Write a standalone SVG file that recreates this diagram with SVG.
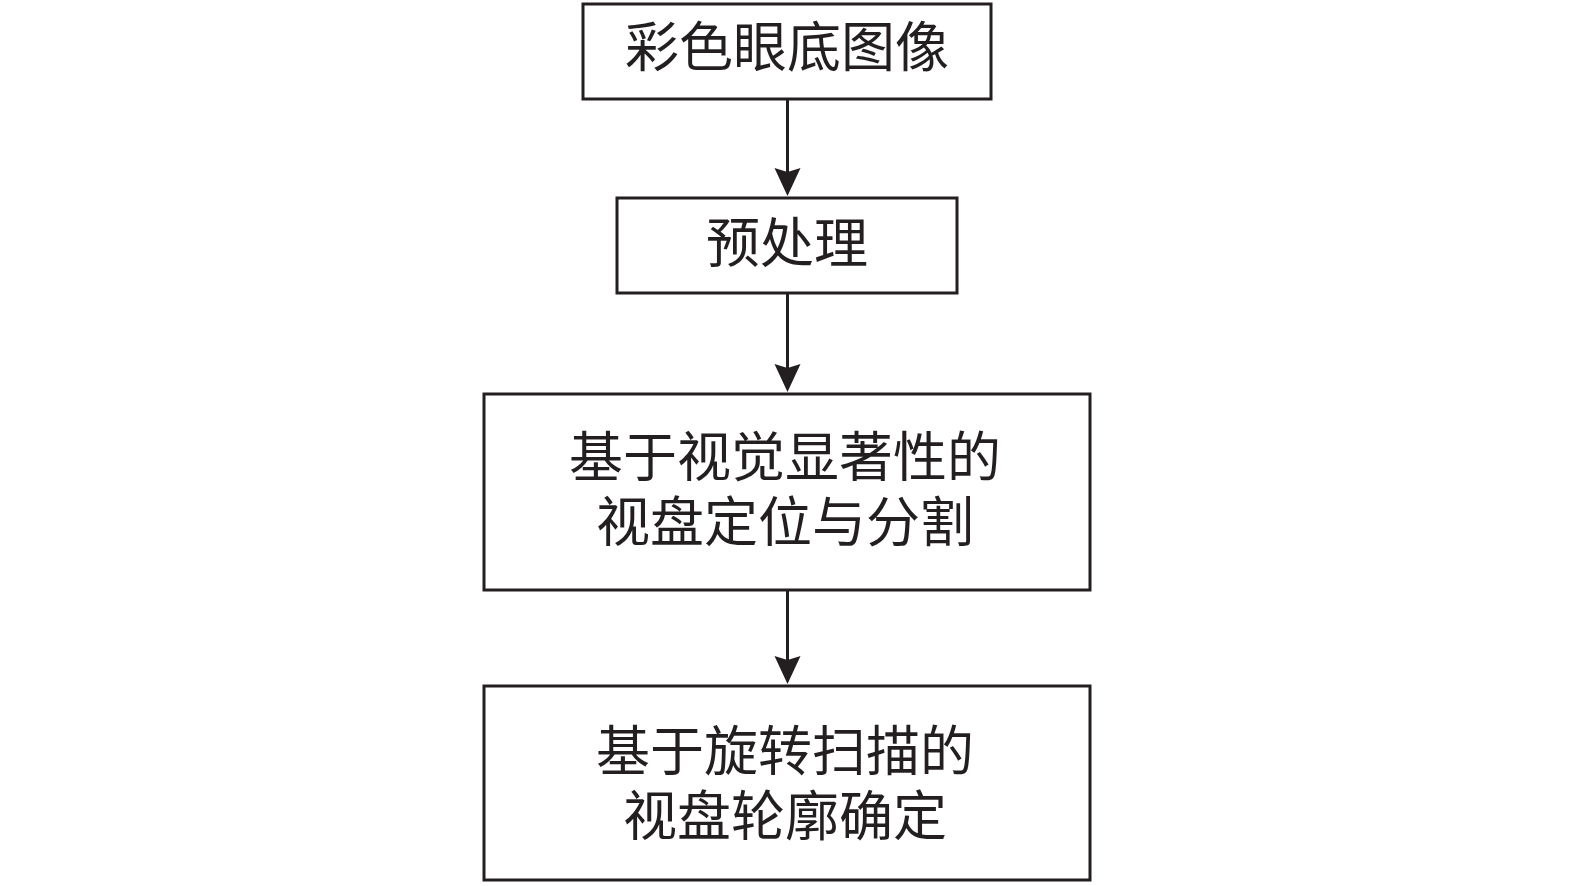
<svg xmlns="http://www.w3.org/2000/svg" width="1575" height="886" viewBox="0 0 1575 886">
<style>
.box{fill:#fff;stroke:#231f20;stroke-width:3}
.lbl{font-family:"Noto Sans CJK SC",sans-serif;font-size:54px;fill:#231f20;text-anchor:middle}
.edge{stroke:#231f20;stroke-width:3;fill:none}
.head{fill:#231f20}
</style>
<rect width="1575" height="886" fill="#fff"/>
<g id="connectors">
<line class="edge" x1="787.5" y1="99" x2="787.5" y2="175"/>
<path class="head" d="M787.5,196 L774.5,168 L787.5,172 L800.5,168 Z"/>
<line class="edge" x1="787.5" y1="293" x2="787.5" y2="371"/>
<path class="head" d="M787.5,392 L774.5,364 L787.5,368 L800.5,364 Z"/>
<line class="edge" x1="787.5" y1="590" x2="787.5" y2="663"/>
<path class="head" d="M787.5,684 L774.5,656 L787.5,660 L800.5,656 Z"/>
</g>
<g id="n1">
<rect class="box" x="583" y="4" width="408" height="95"/>
<text class="lbl" x="787" y="67">彩色眼底图像</text>
</g>
<g id="n2">
<rect class="box" x="617" y="198" width="340" height="95"/>
<text class="lbl" x="787" y="263">预处理</text>
</g>
<g id="n3">
<rect class="box" x="484" y="394" width="606" height="196"/>
<text class="lbl"><tspan x="785" y="477">基于视觉显著性的</tspan><tspan x="785" y="542">视盘定位与分割</tspan></text>
</g>
<g id="n4">
<rect class="box" x="484" y="686" width="606" height="194"/>
<text class="lbl"><tspan x="785" y="771">基于旋转扫描的</tspan><tspan x="785" y="836">视盘轮廓确定</tspan></text>
</g>
</svg>
